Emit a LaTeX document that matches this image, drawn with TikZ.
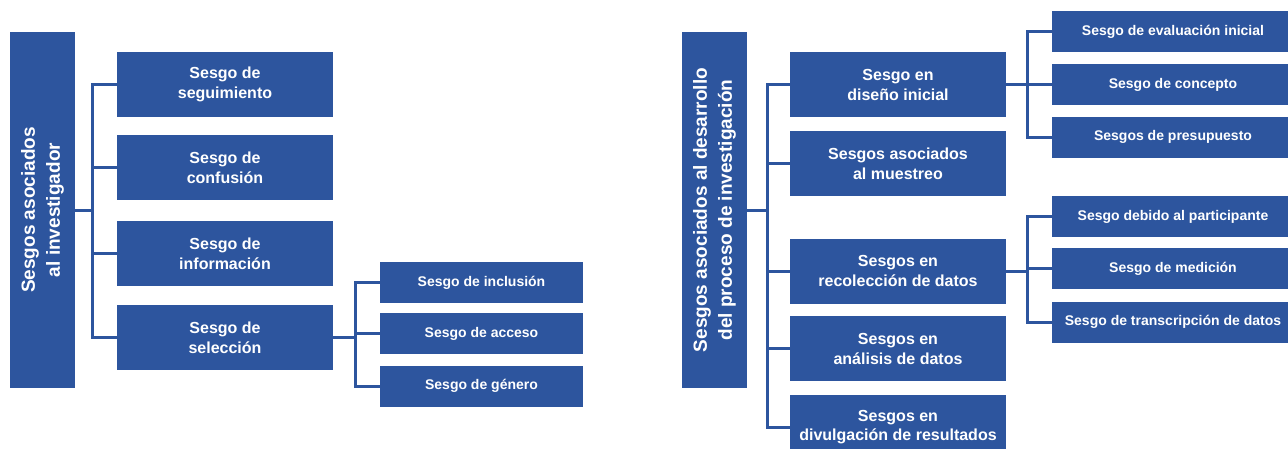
\documentclass[tikz,border=0pt]{standalone}
\usepackage{fontspec}
\setmainfont{Liberation Sans}
\usetikzlibrary{positioning}
\definecolor{sesgoazul}{RGB}{45,85,158}
\tikzset{
  raiz/.style={fill=sesgoazul, text=white, font=\fontsize{19}{25}\selectfont\bfseries,
    align=center, rotate=90, minimum width=356pt, minimum height=65pt, inner sep=0pt},
  rama/.style={fill=sesgoazul, text=white, font=\fontsize{16}{20}\selectfont\bfseries,
    align=center, minimum width=216pt, minimum height=65pt, inner sep=0pt},
  hoja/.style={fill=sesgoazul, text=white, font=\fontsize{14}{17}\selectfont\bfseries,
    align=center, minimum height=41pt, inner sep=0pt},
  enlace/.style={draw=sesgoazul, line width=3pt}
}
\begin{document}
\begin{tikzpicture}[x=1pt,y=-1pt]
\useasboundingbox (0,0) rectangle (1288,448);
% investigador
\node[raiz] (a) at (42.5,210) {Sesgos asociados\\al investigador};
\node[rama] (a1) at (225,84.5) {Sesgo de\\seguimiento};
\node[rama, below=18pt of a1] (a2) {Sesgo de\\confusión};
\node[rama, below=20pt of a2] (a3) {Sesgo de\\información};
\node[rama, below=19pt of a3] (a4) {Sesgo de\\selección};
\node[hoja, minimum width=203pt] (a41) at (481.5,282.5) {Sesgo de inclusión};
\node[hoja, minimum width=203pt, below=10pt of a41] (a42) {Sesgo de acceso};
\node[hoja, minimum width=203pt, below=11pt of a42] (a43) {Sesgo de género};
\coordinate (ta) at (92,0);
\coordinate (tb) at (355,0);
\draw[enlace] (a.south) -- (a.south -| ta);
\draw[enlace] (a1.west) -| (ta |- a4.west) -- (a4.west);
\draw[enlace] (a2.west) -- (a2.west -| ta);
\draw[enlace] (a3.west) -- (a3.west -| ta);
\draw[enlace] (a4.east) -- (a4.east -| tb);
\draw[enlace] (a41.west) -| (tb |- a43.west) -- (a43.west);
\draw[enlace] (a42.west) -- (a42.west -| tb);
% proceso de investigacion
\node[raiz] (b) at (714.5,210) {Sesgos asociados al desarrollo\\del proceso de investigación};
\node[rama] (b1) at (898,84.5) {Sesgo en\\diseño inicial};
\node[rama, below=14pt of b1] (b2) {Sesgos asociados\\al muestreo};
\node[rama, below=42pt of b2] (b3) {Sesgos en\\recolección de datos};
\node[rama, below=12pt of b3] (b4) {Sesgos en\\análisis de datos};
\node[rama, below=13pt of b4] (b5) {Sesgos en\\divulgación de resultados};
\node[hoja, minimum width=242pt] (b11) at (1173,31.5) {Sesgo de evaluación inicial};
\node[hoja, minimum width=242pt, below=12pt of b11] (b12) {Sesgo de concepto};
\node[hoja, minimum width=242pt, below=11pt of b12] (b13) {Sesgos de presupuesto};
\node[hoja, minimum width=242pt] (b31) at (1173,216.5) {Sesgo debido al participante};
\node[hoja, minimum width=242pt, below=11pt of b31] (b32) {Sesgo de medición};
\node[hoja, minimum width=242pt, below=12pt of b32] (b33) {Sesgo de transcripción de datos};
\coordinate (tc) at (767,0);
\coordinate (td) at (1027,0);
\draw[enlace] (b.south) -- (b.south -| tc);
\draw[enlace] (b1.west) -| (tc |- b5.west) -- (b5.west);
\draw[enlace] (b2.west) -- (b2.west -| tc);
\draw[enlace] (b3.west) -- (b3.west -| tc);
\draw[enlace] (b4.west) -- (b4.west -| tc);
\draw[enlace] (b1.east) -- (b1.east -| td);
\draw[enlace] (b11.west) -| (td |- b13.west) -- (b13.west);
\draw[enlace] (b12.west) -- (b12.west -| td);
\draw[enlace] (b3.east) -- (b3.east -| td);
\draw[enlace] (b31.west) -| (td |- b33.west) -- (b33.west);
\draw[enlace] (b32.west) -- (b32.west -| td);
\end{tikzpicture}
\end{document}
